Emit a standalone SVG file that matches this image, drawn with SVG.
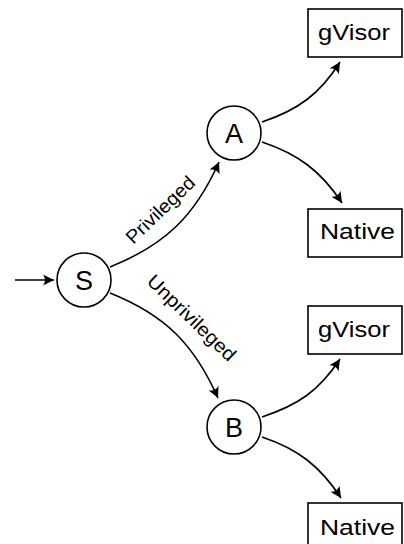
<svg xmlns="http://www.w3.org/2000/svg" width="404" height="544" viewBox="0 0 404 544">
  <style>
    .state circle { fill: #fff; stroke: #000; stroke-width: 1.6; }
    .state text { font-family: "Liberation Sans", Arial, sans-serif; font-size: 27px; text-anchor: middle; fill: #000; }
    .box rect { fill: #fff; stroke: #000; stroke-width: 1.6; }
    .box text { font-family: "Liberation Sans", Arial, sans-serif; font-size: 22.5px; fill: #000; }
    .edge { fill: none; stroke: #000; stroke-width: 1.6; marker-end: url(#head); }
    .label { font-family: "Liberation Sans", Arial, sans-serif; font-size: 19px; text-anchor: middle; fill: #000; }
  </style>
  <defs>
    <marker id="head" markerUnits="userSpaceOnUse" viewBox="-12 -7 13 14" refX="0" refY="0" markerWidth="13" markerHeight="14" orient="auto">
      <path d="M0,0 L-11,-5.5 Q-7,0 -11,5.5 Z" fill="#000"/>
    </marker>
  </defs>

  <rect width="404" height="544" fill="#fff"/>

  <!-- connectors -->
  <g id="edges">
    <path class="edge" d="M15,280 L54,280"/>
    <path class="edge" d="M110,267 C165,245 195,216 219,162"/>
    <path class="edge" d="M110,293 C165,315 194,344 218,398"/>
    <path class="edge" d="M262,122 C298,110 320,94 340,62"/>
    <path class="edge" d="M262,142 C298,154 321,171 342,203"/>
    <path class="edge" d="M262,417 C298,405 319,391 340,359"/>
    <path class="edge" d="M262,437 C298,449 320,466 341,498"/>
    <text class="label" transform="translate(176,226) rotate(-44)" x="0" y="-16" textLength="88" lengthAdjust="spacingAndGlyphs">Privileged</text>
    <text class="label" transform="translate(176,334) rotate(44)" x="0" y="-16" textLength="115" lengthAdjust="spacingAndGlyphs">Unprivileged</text>
  </g>

  <!-- states -->
  <g id="S" class="state">
    <circle cx="84" cy="280" r="27"/>
    <text x="84" y="290">S</text>
  </g>
  <g id="A" class="state">
    <circle cx="234" cy="133" r="27"/>
    <text x="234" y="143">A</text>
  </g>
  <g id="B" class="state">
    <circle cx="234" cy="427" r="27"/>
    <text x="234" y="437">B</text>
  </g>

  <!-- outcomes -->
  <g id="A-gvisor" class="box">
    <rect x="308" y="9" width="94" height="48"/>
    <text x="318" y="40" textLength="72" lengthAdjust="spacingAndGlyphs">gVisor</text>
  </g>
  <g id="A-native" class="box">
    <rect x="308" y="209" width="94" height="48"/>
    <text x="320" y="239" textLength="75" lengthAdjust="spacingAndGlyphs">Native</text>
  </g>
  <g id="B-gvisor" class="box">
    <rect x="308" y="306" width="94" height="48"/>
    <text x="318" y="337" textLength="72" lengthAdjust="spacingAndGlyphs">gVisor</text>
  </g>
  <g id="B-native" class="box">
    <rect x="308" y="503" width="94" height="48"/>
    <text x="320" y="535" textLength="75" lengthAdjust="spacingAndGlyphs">Native</text>
  </g>
</svg>
